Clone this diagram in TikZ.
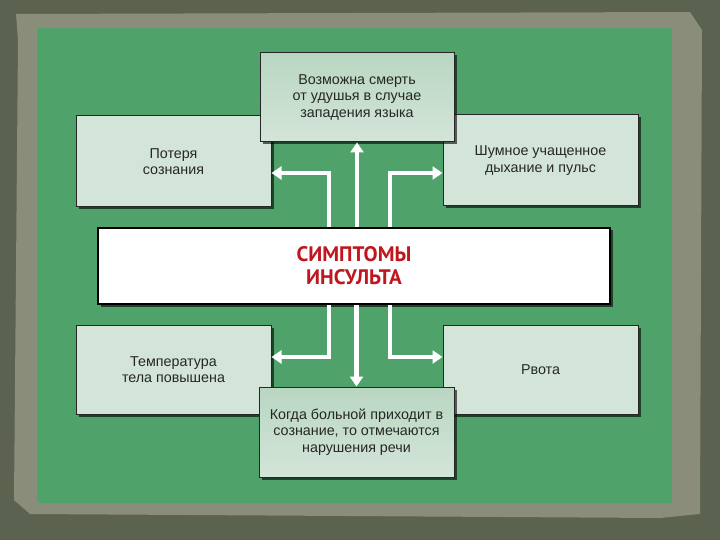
\documentclass[tikz,border=0pt]{standalone}
\usepackage{fontspec}
\setmainfont{Liberation Sans}
\newfontfamily\titlefont{PT Sans}
\usetikzlibrary{arrows.meta,shadows}
\definecolor{bgdark}{HTML}{5C6250}
\definecolor{frame}{HTML}{8B8D7B}
\definecolor{green}{HTML}{4FA36A}
\definecolor{boxfill}{HTML}{D3E5D9}
\definecolor{boxtop}{HTML}{B9D6C2}
\definecolor{titlered}{HTML}{C0161E}
\tikzset{
  box/.style={draw=black!85, line width=1pt, fill=boxfill, align=center,
    font=\fontsize{14.3}{16.2}\selectfont, text=black!85,
    drop shadow={shadow xshift=2.5pt, shadow yshift=-2.5pt, opacity=0.6, fill=black}},
  topbox/.style={box, top color=boxtop, bottom color=boxfill},
  mainbox/.style={draw=black, line width=2pt, fill=white, align=center,
    font=\titlefont\bfseries\fontsize{21}{23}\selectfont, text=titlered,
    drop shadow={shadow xshift=2.5pt, shadow yshift=-2.5pt, opacity=0.6, fill=black}},
  arr/.style={draw=white, line width=4.5pt, -{Triangle[width=13pt,length=10pt]}}
}
\begin{document}
\begin{tikzpicture}[x=1pt,y=-1pt]
\useasboundingbox (0,0) rectangle (720,540);
\fill[bgdark] (0,0) rectangle (720,540);
\fill[frame] (16,14) -- (690,12) -- (702,30) -- (700,514) -- (660,518) -- (30,514) -- (14,500) -- (18,40) -- cycle;
\fill[green] (37,28) rectangle (672,503);
% side boxes
\node[box, minimum width=195pt, minimum height=91pt] (tl) at (173.5,161.5) {Потеря\\сознания};
\node[box, minimum width=195pt, minimum height=91pt] (tr) at (540.5,160.5) {Шумное учащенное\\дыхание и пульс};
\node[box, minimum width=195pt, minimum height=89pt] (bl) at (173.5,369.5) {Температура\\тела повышена};
\node[box, minimum width=195pt, minimum height=89pt] (br) at (540.5,369.5) {Рвота};
% centre column boxes
\node[topbox, minimum width=194pt, minimum height=89pt] (tc) at (357,97.5) {Возможна смерть\\от удушья в случае\\западения языка};
\node[topbox, minimum width=195pt, minimum height=90pt] (bc) at (356.5,432) {Когда больной приходит в\\сознание, то отмечаются\\нарушения речи};
% main box
\node[mainbox, minimum width=512pt, minimum height=76pt] (c) at (354,266) {СИМПТОМЫ\\ИНСУЛЬТА};
% arrows
\coordinate (ul) at (329,173);
\coordinate (ur) at (390,173);
\coordinate (dl) at (329,357);
\coordinate (dr) at (390,357);
\draw[arr] (c.north -| tc.south) -- (tc.south);
\draw[arr] (ul |- c.north) -- (ul) -- (ul -| tl.east);
\draw[arr] (ur |- c.north) -- (ur) -- (ur -| tr.west);
\draw[arr] (c.south -| bc.north) -- (bc.north);
\draw[arr] (dl |- c.south) -- (dl) -- (dl -| bl.east);
\draw[arr] (dr |- c.south) -- (dr) -- (dr -| br.west);
\end{tikzpicture}
\end{document}
